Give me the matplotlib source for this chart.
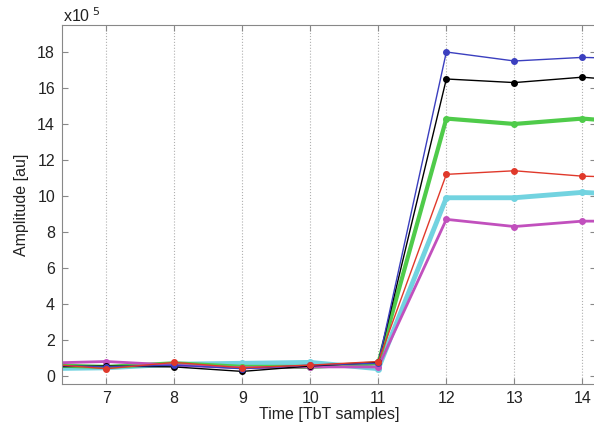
import matplotlib
matplotlib.use("Agg")
import matplotlib.pyplot as plt

plt.rcParams['font.family'] = ['Liberation Sans', 'DejaVu Sans']

# TbT sample index and amplitudes (x 1e5 au)
samples = [6, 7, 8, 9, 10, 11, 12, 13, 14, 15]
amp_blue = [0.6, 0.5, 0.6, 0.4, 0.6, 0.7, 18.0, 17.5, 17.7, 17.6]
amp_black = [0.5, 0.55, 0.5, 0.25, 0.55, 0.75, 16.5, 16.3, 16.6, 16.3]
amp_green = [0.6, 0.5, 0.7, 0.5, 0.5, 0.7, 14.3, 14.0, 14.3, 14.0]
amp_red = [0.7, 0.4, 0.75, 0.45, 0.6, 0.8, 11.2, 11.4, 11.1, 11.0]
amp_cyan = [0.4, 0.45, 0.65, 0.7, 0.75, 0.4, 9.9, 9.9, 10.2, 10.0]
amp_magenta = [0.7, 0.8, 0.6, 0.45, 0.5, 0.5, 8.7, 8.3, 8.6, 8.6]

series = [
    (amp_cyan, '#72d3e0', 3.5),
    (amp_green, '#4fcb4a', 3.0),
    (amp_magenta, '#c150bd', 2.0),
    (amp_black, '#000000', 1.0),
    (amp_blue, '#3b3fbf', 1.0),
    (amp_red, '#e0392b', 1.0),
]

fig = plt.figure(figsize=(5.94, 4.32), dpi=100)
ax = fig.add_axes([62 / 594, 48 / 432, 534 / 594, 359 / 432])

for vals, color, lw in series:
    ax.plot(samples, vals, '-', color=color, linewidth=lw,
            marker='o', markersize=4, markerfacecolor=color,
            markeredgecolor=color)

ax.set_xlim(6.35, 14.2)
ax.set_ylim(-0.45, 19.5)
ax.set_xticks(range(7, 15))
ax.set_yticks(range(0, 19, 2))
ax.tick_params(direction='in', top=True, right=True, labelsize=11.5,
               length=4, color='#888888', labelcolor='#222222', pad=5)
ax.grid(True, axis='x', linestyle=':', color='#b0b0b0', linewidth=0.8)
for s in ax.spines.values():
    s.set_color('#888888')

ax.set_xlabel('Time [TbT samples]', fontsize=11.5, color='#222222', labelpad=1)
ax.set_ylabel('Amplitude [au]', fontsize=11.5, color='#222222', labelpad=6)
fig.text(63 / 594, 1 - 16 / 432, r'x10$^{\ 5}$', fontsize=11.5,
         color='#222222', va='center', ha='left')

fig.savefig('out.png', dpi=100)
